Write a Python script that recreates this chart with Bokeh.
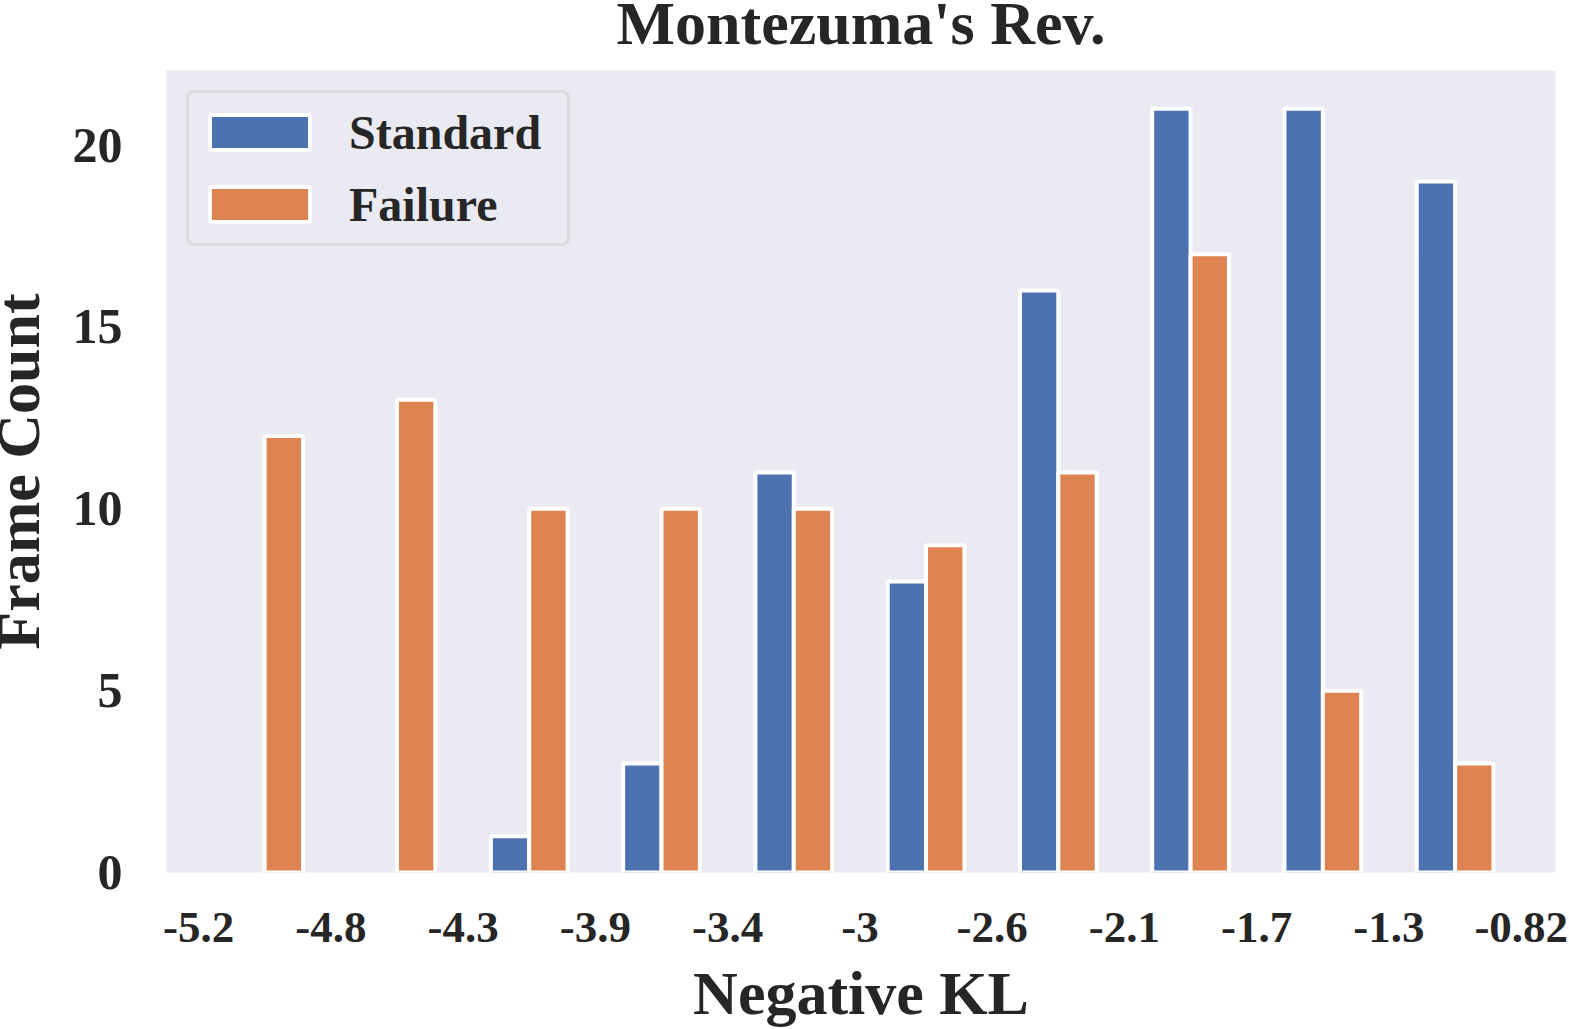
import numpy as np
from bokeh.plotting import figure
from bokeh.models import Range1d, FixedTicker, Legend, LegendItem, ColumnDataSource
from bokeh.embed import file_html
from bokeh.resources import INLINE

# ---------------- data ----------------
title_text = "Montezuma's Rev."
x_label = "Negative KL"
y_label = "Frame Count"
edge_labels = ["-5.2", "-4.8", "-4.3", "-3.9", "-3.4", "-3", "-2.6", "-2.1", "-1.7", "-1.3", "-0.82"]
series_names = ["Standard", "Failure"]
standard_counts = [0, 0, 1, 3, 11, 8, 16, 21, 21, 19]
failure_counts = [12, 13, 10, 10, 10, 9, 11, 17, 5, 3]
y_ticks = [0, 5, 10, 15, 20]

# ---------------- style ----------------
BLUE = "#4C72B0"
ORANGE = "#DD8452"
TEXT = "#262626"
BG = "#EAEAF2"
FONT = "Liberation Serif"

SHIFT_TOP = 30    # figure is pulled up / left so that text boxes may start above / left of the page
SHIFT_LEFT = 20

p = figure(width=1569 + SHIFT_LEFT, height=1029 + SHIFT_TOP,
           output_backend="svg", toolbar_location=None,
           x_range=Range1d(-0.2425, 10.259), y_range=Range1d(0, 22.05),
           min_border_left=165 + SHIFT_LEFT, min_border_right=14,
           min_border_top=70 + SHIFT_TOP, min_border_bottom=156)
p.styles = {"margin-top": f"-{SHIFT_TOP}px", "margin-left": f"-{SHIFT_LEFT}px"}
p.background_fill_color = BG
p.border_fill_color = "white"
p.outline_line_color = None
p.grid.visible = False

# bars (zero-count bins draw nothing)
centers = np.arange(len(standard_counts)) + 0.5
bar_w = 0.29
s_top = np.array(standard_counts)
f_top = np.array(failure_counts)
ms = s_top > 0
mf = f_top > 0
src_s = ColumnDataSource(dict(x=(centers - bar_w / 2)[ms], top=s_top[ms]))
src_f = ColumnDataSource(dict(x=(centers + bar_w / 2)[mf], top=f_top[mf]))
r_s = p.vbar(x="x", top="top", bottom=0, width=bar_w, source=src_s,
             fill_color=BLUE, line_color="white", line_width=4)
r_f = p.vbar(x="x", top="top", bottom=0, width=bar_w, source=src_f,
             fill_color=ORANGE, line_color="white", line_width=4)

# title
p.title.text = title_text
p.title.text_font = FONT
p.title.text_font_size = "62px"
p.title.text_font_style = "bold"
p.title.text_color = TEXT
p.title.align = "center"
p.title.vertical_align = "bottom"
p.title.standoff = 28

# axes
p.xaxis.ticker = FixedTicker(ticks=list(range(len(edge_labels))))
p.xaxis.major_label_overrides = {i: lab for i, lab in enumerate(edge_labels)}
p.yaxis.ticker = FixedTicker(ticks=y_ticks)
for ax in (p.xaxis[0], p.yaxis[0]):
    ax.axis_line_color = None
    ax.major_tick_line_color = None
    ax.minor_tick_line_color = None
    ax.major_tick_out = 0
    ax.major_tick_in = 0
    ax.minor_tick_out = 0
    ax.minor_tick_in = 0
    ax.major_label_text_font = FONT
    ax.major_label_text_font_style = "bold"
    ax.major_label_text_color = TEXT
    ax.axis_label_text_font = FONT
    ax.axis_label_text_font_style = "bold"
    ax.axis_label_text_font_size = "62px"
    ax.axis_label_text_color = TEXT
p.xaxis.major_label_text_font_size = "45px"
p.xaxis.major_label_standoff = 40
p.xaxis.axis_label = x_label
p.xaxis.axis_label_standoff = 14
p.yaxis.major_label_text_font_size = "50px"
p.yaxis.major_label_standoff = 44
p.yaxis.axis_label = y_label
p.yaxis.axis_label_standoff = 18

# legend
legend = Legend(items=[LegendItem(label=series_names[0], renderers=[r_s]),
                       LegendItem(label=series_names[1], renderers=[r_f])],
                location="top_left", margin=20, padding=8, spacing=10,
                glyph_width=125, glyph_height=44, label_standoff=27,
                label_height=62, label_width=210,
                label_text_font=FONT, label_text_font_style="bold",
                label_text_font_size="48px", label_text_color=TEXT,
                background_fill_color=BG, background_fill_alpha=1.0,
                border_line_color="#CCCCCC", border_line_width=3)
try:
    legend.border_radius = 8
except Exception:
    pass
p.add_layout(legend)

open("out.html", "w").write(file_html(p, INLINE))
